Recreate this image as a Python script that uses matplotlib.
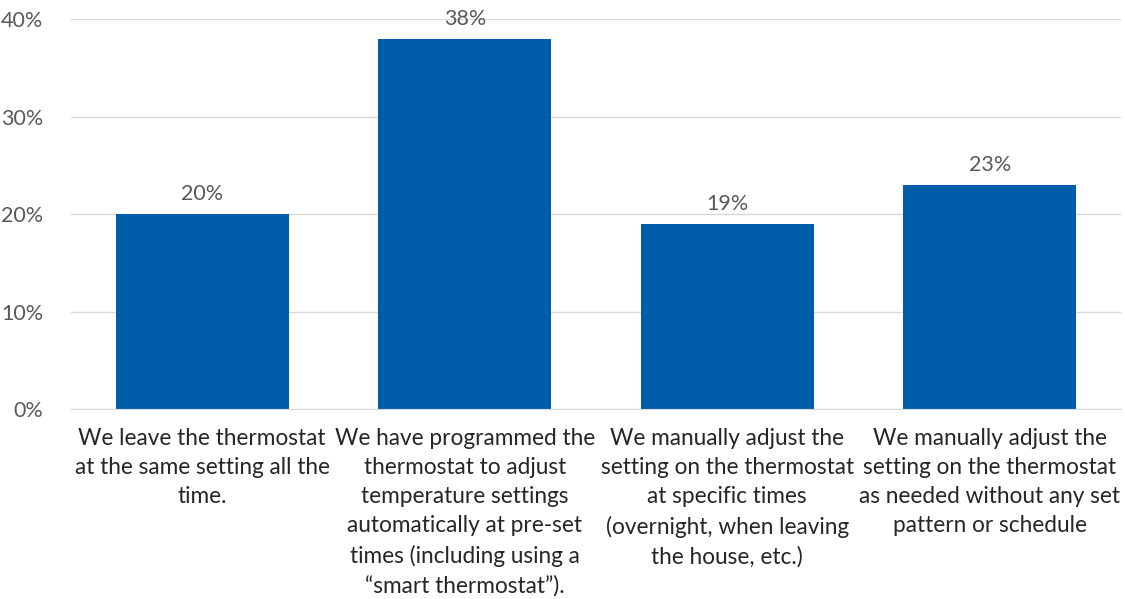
import matplotlib.pyplot as plt
from matplotlib.ticker import PercentFormatter

categories = [
    "We leave the thermostat\nat the same setting all the\ntime.",
    "We have programmed the\nthermostat to adjust\ntemperature settings\nautomatically at pre-set\ntimes (including using a\n\u201csmart thermostat\u201d).",
    "We manually adjust the\nsetting on the thermostat\nat specific times\n(overnight, when leaving\nthe house, etc.)",
    "We manually adjust the\nsetting on the thermostat\nas needed without any set\npattern or schedule",
]
values = [20, 38, 19, 23]
yticks = [0, 10, 20, 30, 40]

plt.rcParams["font.family"] = ["Lato", "DejaVu Sans"]

fig = plt.figure(figsize=(11.25, 5.99), dpi=100)
ax = fig.add_axes([71 / 1125, 1 - 409 / 599, 1050 / 1125, 390 / 599])

x = range(len(values))
bars = ax.bar(x, values, width=0.66, color="#005DAA", zorder=3)
for b, v in zip(bars, values):
    ax.text(b.get_x() + b.get_width() / 2, v + 1.0, f"{v}%", ha="center", va="bottom",
            fontsize=15.5, color="#595959")

ax.set_xlim(-0.5, len(values) - 0.5)
ax.set_ylim(0, 40)
ax.set_yticks(yticks)
ax.yaxis.set_major_formatter(PercentFormatter(decimals=0))
ax.grid(axis="y", color="#D9D9D9", linewidth=1, zorder=0)

ax.set_xticks(list(x))
ax.set_xticklabels(categories, fontsize=16.3, color="#262626", linespacing=1.47)
ax.tick_params(axis="x", length=0, pad=14)
ax.tick_params(axis="y", length=0, pad=20, labelsize=15.5, labelcolor="#595959")

for side in ["top", "right", "left"]:
    ax.spines[side].set_visible(False)
ax.spines["bottom"].set_color("#D9D9D9")
ax.spines["bottom"].set_zorder(4)

fig.savefig("out.png", dpi=100)
